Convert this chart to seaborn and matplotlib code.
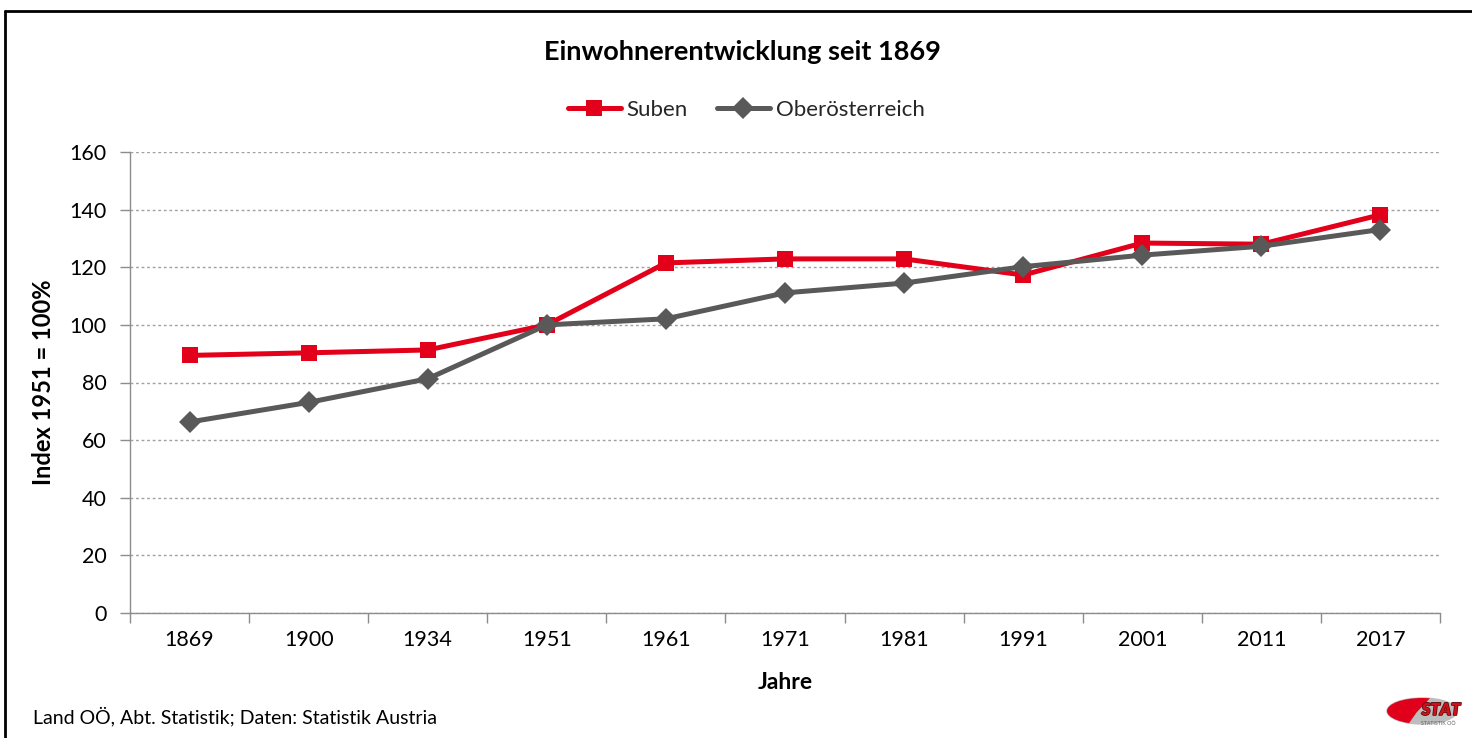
import numpy as np
import pandas as pd
import matplotlib
matplotlib.use("Agg")
import matplotlib.pyplot as plt
import seaborn as sns
from matplotlib.patches import Ellipse, Polygon
from matplotlib.lines import Line2D
import matplotlib.patheffects as pe

years = ["1869", "1900", "1934", "1951", "1961", "1971", "1981", "1991", "2001", "2011", "2017"]
suben = [89.4, 90.3, 91.3, 100.0, 121.5, 122.9, 122.9, 117.3, 128.4, 128.0, 138.2]
ooe = [66.3, 73.1, 81.3, 100.0, 102.1, 111.1, 114.5, 120.2, 124.2, 127.3, 133.1]
series_names = ["Suben", "Oberösterreich"]
yticks = [0, 20, 40, 60, 80, 100, 120, 140, 160]

sns.set_theme(style="white")
plt.rcParams["font.family"] = ["Lato", "DejaVu Sans"]

df = pd.DataFrame({
    "pos": list(range(len(years))) * 2,
    "value": suben + ooe,
    "series": [series_names[0]] * len(years) + [series_names[1]] * len(years),
})

W, H = 1472, 738
fig = plt.figure(figsize=(W / 100, H / 100), dpi=100)
ax = fig.add_axes([130 / W, 1 - 613 / H, (1440 - 130) / W, (613 - 152) / H])

palette = {"Suben": "#E2001A", "Oberösterreich": "#595959"}
markers = {"Suben": "s", "Oberösterreich": "D"}
LW = 3.6
MS = 11.5
sns.lineplot(data=df, x="pos", y="value", hue="series", style="series",
             palette=palette, markers=markers, dashes=False, linewidth=LW,
             markersize=MS, markeredgewidth=0, ax=ax, legend=False, zorder=3)

ax.set_xlim(-0.5, len(years) - 0.5)
ax.set_ylim(0, 160)
ax.set_yticks(yticks)
ax.set_yticklabels([str(t) for t in yticks], fontsize=15.5)
ax.set_xticks(range(len(years)))
ax.set_xticklabels(years, fontsize=15.5)
ax.xaxis.set_minor_locator(matplotlib.ticker.FixedLocator(np.arange(-0.5, len(years), 1)))
ax.tick_params(axis="x", which="major", length=0, pad=12, colors="black")
ax.tick_params(axis="x", which="minor", length=7, width=1, color="#8c8c8c", bottom=True)
ax.tick_params(axis="y", which="major", length=7, width=1, color="#8c8c8c", left=True, pad=10)
for lab in ax.get_xticklabels() + ax.get_yticklabels():
    lab.set_color("black")

ax.grid(axis="y", linestyle=(0, (2, 2)), color="#a0a0a0", linewidth=1)
ax.grid(axis="x", visible=False)
ax.set_axisbelow(True)
for s in ["top", "right"]:
    ax.spines[s].set_visible(False)
for s in ["left", "bottom"]:
    ax.spines[s].set_color("#8c8c8c")
    ax.spines[s].set_linewidth(1)

ax.set_xlabel("Jahre", fontsize=16.5, fontweight="bold", labelpad=16, color="black")
ax.set_ylabel("Index 1951 = 100%", fontsize=17, fontweight="bold", labelpad=10, color="black")

fig.text(742 / W, 1 - 52 / H, "Einwohnerentwicklung seit 1869", ha="center", va="center",
         fontsize=19.5, fontweight="bold", color="black")

handles = [Line2D([], [], color=palette[n], marker=markers[n], linewidth=LW, markersize=MS,
                  markeredgewidth=0) for n in series_names]
fig.legend(handles, series_names, loc="center", bbox_to_anchor=(746 / W, 1 - 110 / H),
           ncol=2, frameon=False, fontsize=16, handlelength=2.4, handletextpad=0.25,
           columnspacing=1.3)

fig.text(33 / W, 1 - 716 / H, "Land OÖ, Abt. Statistik; Daten: Statistik Austria",
         ha="left", va="center", fontsize=14, color="black")

# frame lines (top and left)
fig.add_artist(Line2D([5 / W, 5 / W], [0, 1 - 11 / H], transform=fig.transFigure, color="black", lw=2))
fig.add_artist(Line2D([5 / W, 1], [1 - 11 / H, 1 - 11 / H], transform=fig.transFigure, color="black", lw=2))

# logo approximation (pixel coordinates)
lax = fig.add_axes([1380 / W, 1 - 735 / H, 92 / W, 45 / H])
lax.set_xlim(1380, 1472)
lax.set_ylim(735, 690)
lax.axis("off")
ell = Ellipse((1422, 711), 70, 26, color="#bdbdbd")
lax.add_patch(ell)
red = Polygon([(1380, 735), (1380, 695), (1432, 695), (1416, 712), (1400, 735)],
              closed=True, color="#e0001b")
lax.add_patch(red)
red.set_clip_path(ell)
lax.text(1441, 710, "STAT", ha="center", va="center", fontsize=12, fontweight="heavy",
         color="#d0101b", fontstyle="italic",
         path_effects=[pe.withStroke(linewidth=1.2, foreground="#5a1010")])
lax.text(1438, 724, "STATISTIK OÖ", ha="center", va="center", fontsize=3.8, color="#606060")

fig.savefig("out.png", dpi=100)
